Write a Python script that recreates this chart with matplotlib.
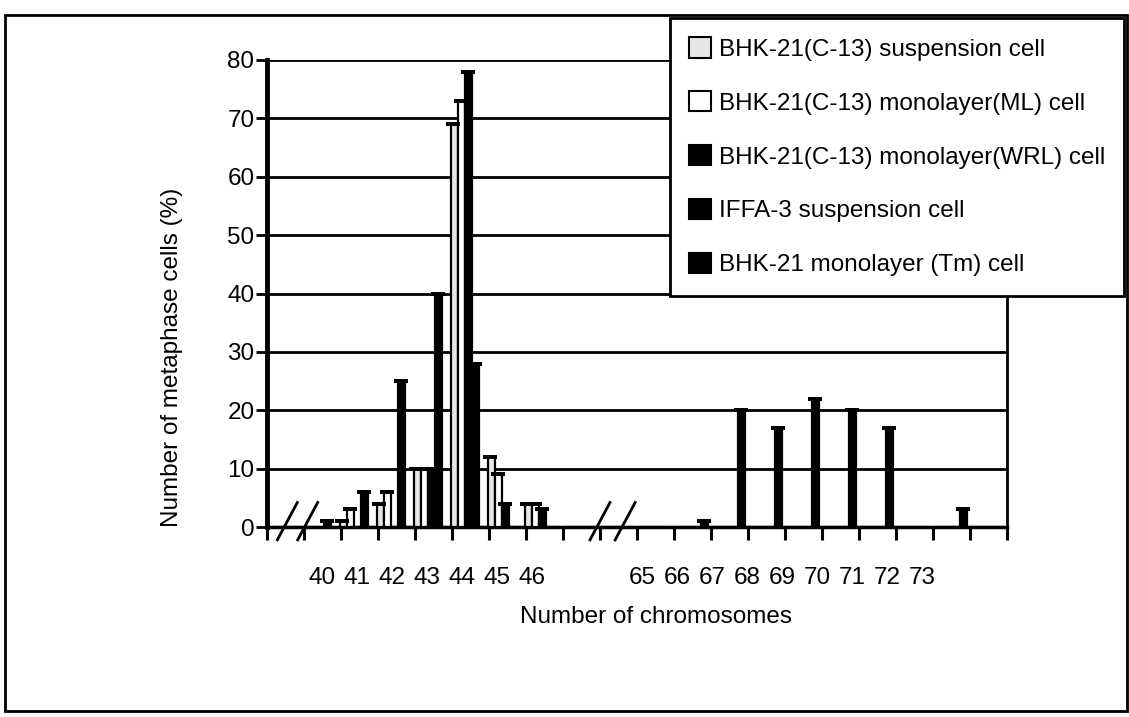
import numpy as np
import matplotlib.pyplot as plt
from matplotlib.patches import Patch, Rectangle

plt.rcParams['font.family'] = ['Liberation Sans', 'DejaVu Sans']

# one slot per category on the x axis (blank slots are the gaps / breaks)
slots = ['', '40', '41', '42', '43', '44', '45', '46', '', '', '',
         '65', '66', '67', '68', '69', '70', '71', '72', '73']
low_labels = ['40', '41', '42', '43', '44', '45', '46']
high_labels = ['65', '66', '67', '68', '69', '70', '71', '72', '73']

# % of metaphase cells per slot
suspension = [0, 0, 1, 4, 10, 69, 12, 4, 0, 0, 0, 0, 0, 0, 0, 0, 0, 0, 0, 0]
monolayer_ml = [0, 0, 3, 6, 10, 73, 9, 4, 0, 0, 0, 0, 0, 0, 0, 0, 0, 0, 0, 0]
monolayer_wrl = [0, 0, 0, 0, 10, 78, 4, 3, 0, 0, 0, 0, 0, 0, 0, 0, 0, 0, 0, 0]
iffa3 = [0, 1, 6, 25, 40, 28, 0, 0, 0, 0, 0, 0, 0, 0, 0, 0, 0, 0, 0, 0]
tm = [0, 0, 0, 0, 0, 0, 0, 0, 0, 0, 0, 1, 20, 17, 22, 20, 17, 0, 3, 0]

series = [
    ("BHK-21(C-13) suspension cell", suspension, '#e6e6e6'),
    ("BHK-21(C-13) monolayer(ML) cell", monolayer_ml, 'white'),
    ("BHK-21(C-13) monolayer(WRL) cell", monolayer_wrl, 'black'),
    ("IFFA-3 suspension cell", iffa3, 'black'),
    ("BHK-21 monolayer (Tm) cell", tm, 'black'),
]

W, H = 1129, 717
fig = plt.figure(figsize=(W / 100, H / 100), dpi=100)
ax = fig.add_axes([267 / W, 1 - 527 / H, 740 / W, 467 / H])

fs = 17.5
x = np.arange(len(slots))
bw = 0.19
for i, (name, vals, col) in enumerate(series):
    vals = np.array(vals, dtype=float)
    pos = x + 0.07 + i * bw
    ax.bar(pos, vals, width=bw, color=col, edgecolor='black', linewidth=1.6, zorder=3)
    nz = vals > 0
    # flat caps on the column tops, like the 3D columns of the original
    ax.errorbar(pos[nz] - 0.03, vals[nz], yerr=np.zeros(nz.sum()), fmt='none',
                ecolor='black', capsize=5, capthick=2.8, elinewidth=0, zorder=4)

ax.set_xlim(0, len(slots))
ax.set_ylim(0, 80)
ax.set_yticks(np.arange(0, 81, 10))
ax.set_xticks(np.arange(0, len(slots) + 1))
ax.set_xticklabels([])
ax.tick_params(axis='y', labelsize=fs, length=8, width=2, pad=1)
ax.tick_params(axis='x', length=9, width=2.2, direction='out')
ax.yaxis.grid(True, color='black', linewidth=2)
ax.set_axisbelow(True)
ax.spines['top'].set_visible(False)
ax.spines['left'].set_linewidth(3.5)
ax.spines['bottom'].set_linewidth(2.5)
ax.spines['right'].set_linewidth(2)

# axis break marks
for xc in [0.55, 1.1, 9.0, 9.68]:
    ax.plot([xc - 0.27, xc + 0.27], [-2.2, 4.2], color='black', lw=2,
            clip_on=False, zorder=5)

# category labels typed under the axis (offset from the slots, as in the scan)
step = 0.946
for j, lab in enumerate(low_labels):
    ax.text(1.49 + j * step, -8.8, lab, ha='center', va='center', fontsize=fs)
for j, lab in enumerate(high_labels):
    ax.text(10.14 + j * step, -8.8, lab, ha='center', va='center', fontsize=fs)

fig.text(656 / W, 1 - 617 / H, "Number of chromosomes", ha='center', va='center',
         fontsize=fs)
fig.text(172 / W, 1 - 357 / H, "Number of metaphase cells (%)", ha='center',
         va='center', rotation=90, fontsize=fs)

handles = [Patch(facecolor=c, edgecolor='black', linewidth=1.5) for _, _, c in series]
leg = fig.legend(handles, [s[0] for s in series], loc='upper left',
                 bbox_to_anchor=(670 / W, 1 - 18 / H), fontsize=fs,
                 frameon=True, fancybox=False, framealpha=1, edgecolor='black',
                 borderpad=0.8, labelspacing=1.25, handlelength=0.9,
                 handleheight=0.9, handletextpad=0.3, borderaxespad=0)
leg.get_frame().set_linewidth(2)

# outer frame of the figure
fig.patches.append(Rectangle((5 / W, 1 - 711 / H), 1122 / W, 696 / H,
                             transform=fig.transFigure, fill=False,
                             edgecolor='black', linewidth=2))

fig.savefig('out.png', dpi=100)
